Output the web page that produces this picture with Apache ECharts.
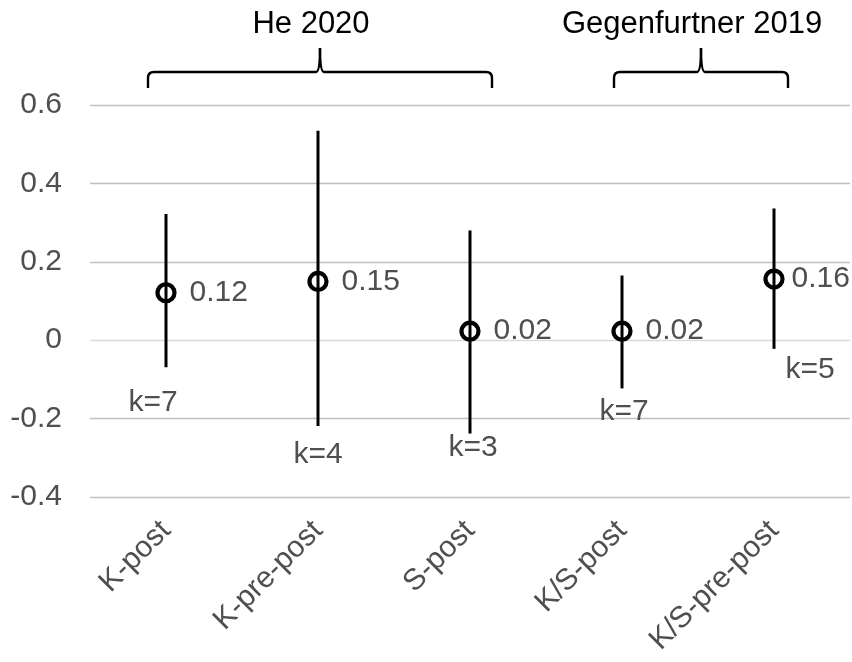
<!DOCTYPE html>
<html>
<head>
<meta charset="utf-8">
<script src="https://cdn.jsdelivr.net/npm/echarts@6/dist/echarts.min.js"></script>
<style>
html,body{margin:0;padding:0;background:#fff;}
#main{width:852px;height:662px;}
</style>
</head>
<body>
<div id="main"></div>
<script>
var categories = ['K-post', 'K-pre-post', 'S-post', 'K/S-post', 'K/S-pre-post'];
var estimates = [0.12, 0.15, 0.02, 0.02, 0.16];
var plotY = [0.121, 0.150, 0.023, 0.023, 0.156];
var ciLow = [-0.069, -0.219, -0.238, -0.123, -0.022];
var ciHigh = [0.322, 0.534, 0.280, 0.165, 0.336];
var kValues = [7, 4, 3, 7, 5];
var kLabelY = [-0.159, -0.291, -0.275, -0.182, -0.075];
var yTicks = [-0.4, -0.2, 0, 0.2, 0.4, 0.6];
var groups = [
  {name: 'He 2020', from: 0, to: 2},
  {name: 'Gegenfurtner 2019', from: 3, to: 4}
];

// layout-only settings (pixels)
var kLabelDx = [-13, 0, 3, 2, 36];
var valueLabelGap = [13, 13, 13, 13, 7];
var braceOffsets = [[-18, 22], [-8, 14]];

var font = '"Liberation Sans", Arial, sans-serif';
var grey = '#4f4f4f';
var fs = 30;

var chart = echarts.init(document.getElementById('main'), null, {renderer: 'canvas'});

var option = {
  animation: false,
  backgroundColor: '#fff',
  grid: {left: 90, right: 2, top: 105, bottom: 165},
  xAxis: {
    type: 'category',
    data: categories,
    boundaryGap: true,
    axisLine: {show: false},
    axisTick: {show: false},
    axisLabel: {rotate: 45, fontSize: fs, color: grey, fontFamily: font, margin: 29, interval: 0},
    splitLine: {show: false}
  },
  yAxis: {
    type: 'value',
    min: yTicks[0],
    max: yTicks[yTicks.length - 1],
    interval: 0.2,
    axisLine: {show: false},
    axisTick: {show: false},
    axisLabel: {fontSize: fs, color: grey, fontFamily: font, margin: 28},
    splitLine: {lineStyle: {color: yTicks.map(function (t) { return t === 0 ? '#d9d9d9' : '#bfbfbf'; }), width: 1.3}}
  },
  series: [
    {
      type: 'custom',
      name: 'CI',
      z: 3,
      data: categories.map(function (c, i) { return [i, ciLow[i], ciHigh[i]]; }),
      renderItem: function (params, api) {
        var lo = api.coord([api.value(0), api.value(1)]);
        var hi = api.coord([api.value(0), api.value(2)]);
        return {
          type: 'line',
          shape: {x1: lo[0], y1: lo[1], x2: hi[0], y2: hi[1]},
          style: {stroke: '#000', lineWidth: 3}
        };
      }
    },
    {
      type: 'scatter',
      name: 'Estimate',
      z: 4,
      symbol: 'circle',
      symbolSize: 17,
      itemStyle: {color: 'rgba(0,0,0,0)', borderColor: '#000', borderWidth: 4.2, opacity: 1},
      data: categories.map(function (c, i) {
        return {
          value: [i, plotY[i]],
          label: {
            show: true,
            position: 'right',
            distance: valueLabelGap[i],
            formatter: estimates[i].toFixed(2),
            fontSize: fs,
            color: grey,
            fontFamily: font
          }
        };
      })
    },
    {
      type: 'scatter',
      name: 'k',
      z: 5,
      symbolSize: 1,
      silent: true,
      itemStyle: {color: 'rgba(0,0,0,0)', opacity: 1},
      data: categories.map(function (c, i) {
        return {
          value: [i, kLabelY[i]],
          label: {
            show: true,
            position: 'inside',
            offset: [kLabelDx[i], 0],
            formatter: 'k=' + kValues[i],
            fontSize: fs,
            color: grey,
            opacity: 1,
            fontFamily: font
          }
        };
      })
    }
  ]
};

chart.setOption(option);

// group braces & titles above the plot, anchored to category positions
var graphics = [];
groups.forEach(function (g, gi) {
  var left = chart.convertToPixel({xAxisIndex: 0}, g.from) + braceOffsets[gi][0];
  var right = chart.convertToPixel({xAxisIndex: 0}, g.to) + braceOffsets[gi][1];
  var mid = (left + right) / 2;
  var yb = 88, yh = 72, yt = 48, r = 6;
  var st = {stroke: '#000', lineWidth: 2.4, fill: null};
  graphics.push({type: 'line', shape: {x1: left, y1: yb, x2: left, y2: yh + r}, style: st});
  graphics.push({type: 'bezierCurve', shape: {x1: left, y1: yh + r, cpx1: left, cpy1: yh, x2: left + r, y2: yh}, style: st});
  graphics.push({type: 'line', shape: {x1: left + r, y1: yh, x2: mid - 4, y2: yh}, style: st});
  graphics.push({type: 'bezierCurve', shape: {x1: mid - 4, y1: yh, cpx1: mid, cpy1: yh, x2: mid, y2: yt}, style: st});
  graphics.push({type: 'bezierCurve', shape: {x1: mid, y1: yt, cpx1: mid, cpy1: yh, x2: mid + 4, y2: yh}, style: st});
  graphics.push({type: 'line', shape: {x1: mid + 4, y1: yh, x2: right - r, y2: yh}, style: st});
  graphics.push({type: 'bezierCurve', shape: {x1: right - r, y1: yh, cpx1: right, cpy1: yh, x2: right, y2: yh + r}, style: st});
  graphics.push({type: 'line', shape: {x1: right, y1: yh + r, x2: right, y2: yb}, style: st});
  graphics.push({
    type: 'text',
    x: mid - 9,
    y: 24,
    style: {text: g.name, fontSize: 31, fontFamily: font, fill: '#000', align: 'center', verticalAlign: 'middle'}
  });
});
chart.setOption({graphic: graphics});
</script>
</body>
</html>
